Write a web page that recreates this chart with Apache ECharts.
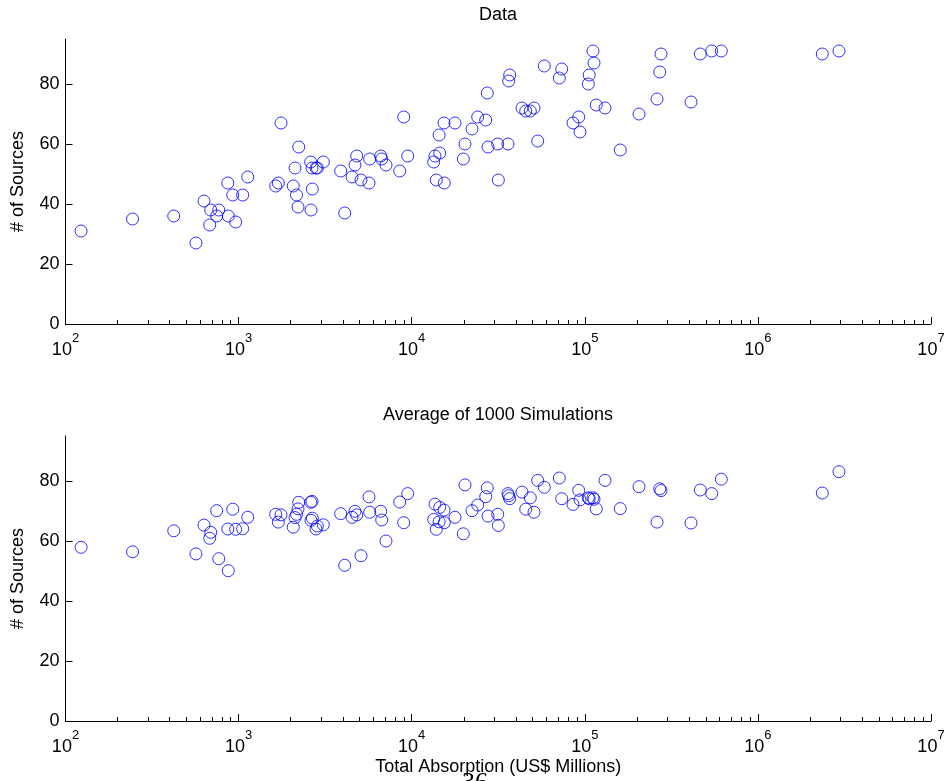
<!DOCTYPE html>
<html>
<head>
<meta charset="utf-8">
<script src="https://cdn.jsdelivr.net/npm/echarts@6/dist/echarts.min.js"></script>
<style>html,body{margin:0;padding:0;background:#fff;}#chart{width:948px;height:781px;}</style>
</head>
<body>
<div id="chart"></div>
<script>
// Total absorption (US$ millions) per observation, shared by both panels
var absorption = [123, 244, 422, 567, 631, 681, 690, 747, 768, 866, 872, 925, 962, 1056, 1129,
  1638, 1696, 1758, 2070, 2118, 2161, 2204, 2225, 2609, 2620, 2655, 2666, 2800, 2849, 3086,
  3889, 4102, 4519, 4703, 4812, 5094, 5665, 5719, 6622, 6710, 7104, 8525, 8990, 9482,
  13400, 13630, 13870, 14400, 14510, 15370, 15430, 17790, 19870, 20320, 22310, 24060,
  26770, 27340, 27600, 31400, 31650, 36000, 36340, 36830, 43380, 45570, 48440, 50880,
  53450, 58360, 71240, 73560, 85500, 92220, 93830, 104800, 106000, 111500, 113000, 116500,
  130800, 160300, 205700, 261300, 270900, 275600, 410800, 464700, 540900, 614500,
  2355000, 2941000];
// Top panel: observed number of sources
var dataSources = [31, 35, 36, 27, 41, 33, 38, 36, 38, 47, 36, 43, 34, 43, 49,
  46, 47, 67, 46, 52, 43, 39, 59, 54, 38, 52, 45, 52, 52, 54,
  51, 37, 49, 53, 56, 48, 47, 55, 56, 55, 53, 51, 69, 56,
  54, 56, 48, 63, 57, 67, 47, 67, 55, 60, 65, 69,
  68, 77, 59, 60, 48, 60, 81, 83, 72, 71, 71, 72,
  61, 86, 82, 85, 67, 69, 64, 80, 83, 91, 87, 73,
  72, 58, 70, 75, 84, 90, 74, 90, 91, 91,
  90, 91];
// Bottom panel: average of 1000 simulations
var simSources = [57.9, 56.4, 63.4, 55.7, 65.3, 60.9, 62.9, 70.1, 54.1, 64.0, 50.1, 70.6, 63.9, 64.1, 67.9,
  68.9, 66.3, 68.7, 64.6, 67.8, 68.9, 70.7, 72.9, 72.9, 66.9, 73.2, 67.6, 64.0, 65.0, 65.4,
  69.1, 51.9, 67.9, 69.9, 68.7, 55.1, 74.7, 69.6, 69.9, 67.0, 60.0, 73.0, 66.1, 75.8,
  67.2, 72.3, 63.9, 66.4, 71.2, 70.3, 66.1, 67.9, 62.4, 78.7, 70.1, 72.0,
  74.8, 77.7, 68.3, 68.9, 65.2, 75.8, 75.1, 74.1, 76.3, 70.6, 74.4, 69.6,
  80.2, 77.9, 81.0, 74.1, 72.2, 76.9, 73.7, 74.4, 74.1, 74.4, 73.9, 70.7,
  80.2, 70.8, 78.1, 66.3, 77.4, 76.8, 66.0, 77.0, 75.8, 80.6,
  76.0, 83.1];
var majorTicks = [1e2, 1e3, 1e4, 1e5, 1e6, 1e7];
var minorTicks = [200, 300, 400, 500, 600, 700, 800, 900,
  2000, 3000, 4000, 5000, 6000, 7000, 8000, 9000,
  20000, 30000, 40000, 50000, 60000, 70000, 80000, 90000,
  200000, 300000, 400000, 500000, 600000, 700000, 800000, 900000,
  2000000, 3000000, 4000000, 5000000, 6000000, 7000000, 8000000, 9000000];
var yTicks = [0, 20, 40, 60, 80];
var titles = ['Data', 'Average of 1000 Simulations'];
var yName = '# of Sources';
var xName = 'Total Absorption (US$ Millions)';

var FONT = "'Liberation Sans', Arial, Helvetica, sans-serif";
var chart = echarts.init(document.getElementById('chart'), null, {renderer: 'canvas'});

function pairs(xs, ys) { return xs.map(function (x, i) { return [x, ys[i]]; }); }

function majorAxis(gi, withName) {
  var ax = {
    type: 'log', logBase: 10, gridIndex: gi, min: 100, max: 1e7, position: 'bottom',
    axisLine: {show: true, onZero: false, lineStyle: {color: '#000', width: 1}},
    axisTick: {show: true, inside: true, length: 7, customValues: majorTicks, lineStyle: {color: '#000'}},
    minorTick: {show: false},
    splitLine: {show: false},
    axisLabel: {
      customValues: majorTicks, margin: 8, color: '#000',
      formatter: function (v) { return '{b|10}{s|' + Math.round(Math.log10(v)) + '}'; },
      rich: {
        b: {fontSize: 18, fontFamily: FONT, color: '#000', lineHeight: 27, verticalAlign: 'bottom'},
        s: {fontSize: 13, fontFamily: FONT, color: '#000', lineHeight: 13, verticalAlign: 'top'}
      }
    }
  };
  if (withName) {
    ax.name = xName;
    ax.nameLocation = 'middle';
    ax.nameGap = 37;
    ax.nameTextStyle = {fontSize: 18, fontFamily: FONT, color: '#000'};
  }
  return ax;
}
function minorAxis(gi) {
  return {
    type: 'log', logBase: 10, gridIndex: gi, min: 100, max: 1e7, position: 'bottom',
    axisLine: {show: false},
    axisTick: {show: true, inside: true, length: 4, customValues: minorTicks, lineStyle: {color: '#000'}},
    axisLabel: {show: false},
    splitLine: {show: false}
  };
}
function yAxis(gi) {
  return {
    type: 'value', gridIndex: gi, min: 0, max: 95, interval: 20,
    axisLine: {show: true, lineStyle: {color: '#000', width: 1}},
    axisTick: {show: true, inside: true, length: 7, customValues: yTicks, lineStyle: {color: '#000'}},
    splitLine: {show: false},
    axisLabel: {customValues: yTicks, fontSize: 18, fontFamily: FONT, color: '#000', margin: 6},
    name: yName, nameLocation: 'middle', nameRotate: 90, nameGap: 38,
    nameTextStyle: {fontSize: 18, fontFamily: FONT, color: '#000'}
  };
}
function scatter(xi, yi, ys) {
  return {
    type: 'scatter', xAxisIndex: xi, yAxisIndex: yi, data: pairs(absorption, ys),
    symbol: 'circle', symbolSize: 12,
    itemStyle: {color: 'rgba(0,0,0,0)', borderColor: '#0000ff', borderWidth: 1},
    emphasis: {disabled: true}, silent: true
  };
}

chart.setOption({
  animation: false,
  backgroundColor: '#fff',
  grid: [
    {left: 65.5, top: 39, width: 865.5, height: 285, containLabel: false},
    {left: 65.5, top: 436, width: 865.5, height: 285, containLabel: false}
  ],
  xAxis: [majorAxis(0, false), minorAxis(0), majorAxis(1, true), minorAxis(1)],
  yAxis: [yAxis(0), yAxis(1)],
  series: [scatter(0, 0, dataSources), scatter(2, 1, simSources)],
  graphic: [
    {type: 'text', x: 498, y: 15, z: 10, style: {text: titles[0], font: '18px ' + FONT, fill: '#000', align: 'center', verticalAlign: 'middle'}},
    {type: 'text', x: 498, y: 415, z: 10, style: {text: titles[1], font: '18px ' + FONT, fill: '#000', align: 'center', verticalAlign: 'middle'}},
    {type: 'text', x: 475, y: 770, z: -1, style: {text: '36', font: "26px 'Liberation Serif', serif", fill: '#000', align: 'center', verticalAlign: 'top'}}
  ]
});
</script>
</body>
</html>
